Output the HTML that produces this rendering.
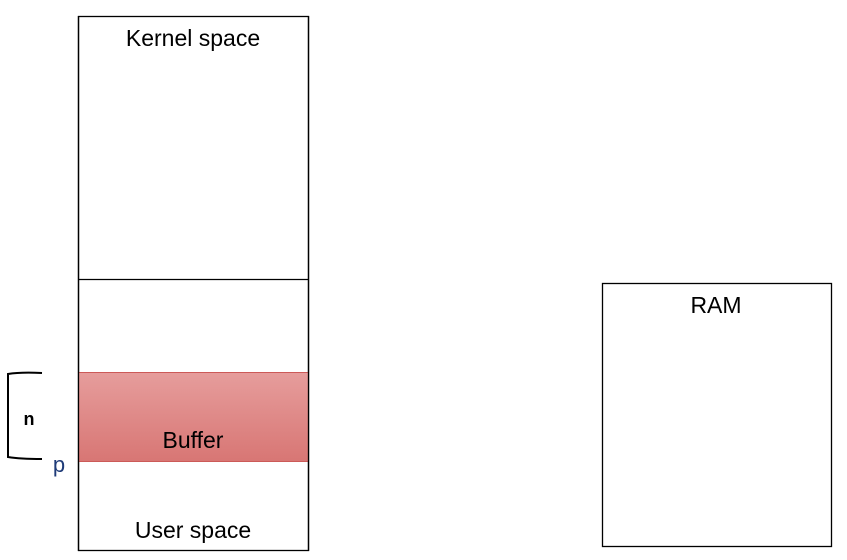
<!DOCTYPE html>
<html><head><meta charset="utf-8"><style>
html,body{margin:0;padding:0;background:#fff;}
svg{display:block;font-family:"Liberation Sans",sans-serif;}
</style></head><body>
<svg width="847" height="560" viewBox="0 0 847 560">
<defs>
<linearGradient id="bg" x1="0" y1="0" x2="0" y2="1">
<stop offset="0" stop-color="#e69d9c"/><stop offset="1" stop-color="#d87674"/>
</linearGradient>
</defs>
<rect x="78.5" y="16.5" width="230" height="534" fill="#fff" stroke="#000" stroke-width="1.3"/>
<line x1="78" y1="279.5" x2="309" y2="279.5" stroke="#000" stroke-width="1.3"/>
<rect x="78.5" y="372.5" width="230" height="89" fill="url(#bg)" stroke="#cc5a58" stroke-width="1"/>
<line x1="78.5" y1="16" x2="78.5" y2="551" stroke="#000" stroke-width="1.3"/>
<line x1="308.5" y1="16" x2="308.5" y2="551" stroke="#000" stroke-width="1.3"/>
<text x="193" y="46" font-size="23" text-anchor="middle">Kernel space</text>
<text x="193" y="448" font-size="23" text-anchor="middle">Buffer</text>
<text x="193" y="538" font-size="23" text-anchor="middle">User space</text>
<rect x="602.5" y="283.5" width="229" height="263" fill="#fff" stroke="#000" stroke-width="1.3"/>
<text x="716" y="313" font-size="23" text-anchor="middle">RAM</text>
<path d="M42,373 Q20,372 8,374 L8,457 Q20,459 42,459" fill="none" stroke="#000" stroke-width="2"/>
<text x="29" y="425" font-size="18" font-weight="bold" text-anchor="middle">n</text>
<text x="59" y="472" font-size="22" fill="#1f3b78" text-anchor="middle">p</text>
</svg>
</body></html>
